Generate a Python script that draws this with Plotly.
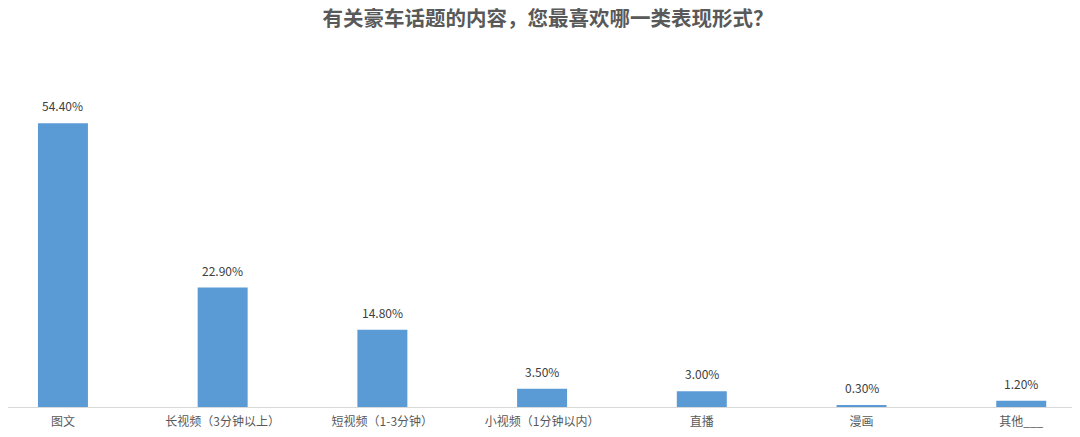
import plotly.graph_objects as go

categories = ['图文', '长视频（3分钟以上）', '短视频（1-3分钟）', '小视频（1分钟以内）', '直播', '漫画', '其他___']
percent = [54.40, 22.90, 14.80, 3.50, 3.00, 0.30, 1.20]
labels = [f'{v:.2f}%' for v in percent]

fig = go.Figure()
fig.add_trace(go.Bar(
    x=categories,
    y=percent,
    marker=dict(color='#5b9bd5', line=dict(width=0)),
    width=0.313,
    hoverinfo='skip'
))

# value labels above the bars
for c, v, t in zip(categories, percent, labels):
    fig.add_annotation(x=c, y=v, text=t, showarrow=False, yanchor='bottom', yshift=7,
                       font=dict(size=12, color='#404040'))

fig.update_layout(
    title=dict(text='<b>有关豪车话题的内容，您最喜欢哪一类表现形式？</b>', x=0.5, xanchor='center',
               yref='container', y=1, yanchor='top', pad=dict(t=4),
               font=dict(size=20.5, color='#595959', family='Noto Sans CJK SC')),
    font=dict(family='Noto Sans CJK SC', size=12, color='#595959'),
    width=1080, height=437,
    margin=dict(l=0, r=0, t=50, b=38),
    plot_bgcolor='white',
    paper_bgcolor='white',
    showlegend=False,
    xaxis=dict(range=[-0.344, 6.418], showline=True, linecolor='#d9d9d9', linewidth=1,
               ticks='', showgrid=False, ticklabelstandoff=4,
               tickfont=dict(size=12, color='#595959')),
    yaxis=dict(range=[0, 66.9], visible=False, showgrid=False, zeroline=False),
)

fig.write_html('out.html')
